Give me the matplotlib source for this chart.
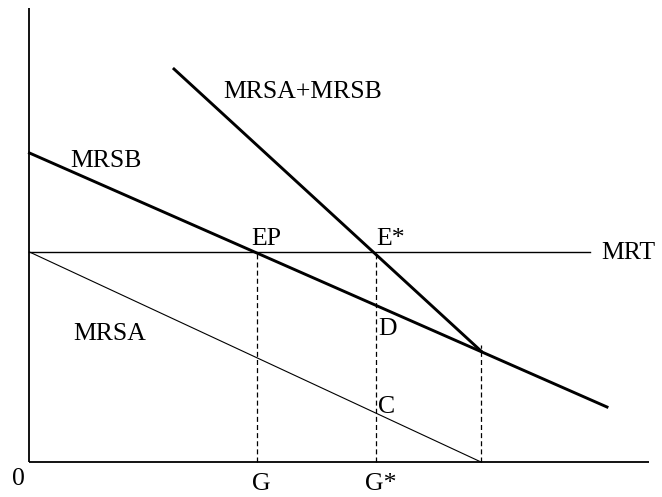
import matplotlib
matplotlib.use("Agg")
import matplotlib.pyplot as plt

# Curve endpoints (quantity G on x, marginal value on y)
mrsb_x = [0, 577.5]
mrsb_y = [309, 55]
mrsa_x = [0, 451.5]
mrsa_y = [210, 0]
sum_x = [144.5, 451.5]
sum_y = [393, 111]
mrt_x = [0, 560.5]
mrt_y = [210, 210]
g_ep = 227.5      # G (private equilibrium EP)
g_star = 346.5    # G* (efficient E*)
g_kink = 451.5    # where MRSA reaches zero
kink_y = 117

plt.rcParams['font.family'] = ['Liberation Serif', 'DejaVu Serif']

fig = plt.figure(figsize=(6.62, 4.97), dpi=100)
ax = fig.add_axes([0, 0, 1, 1])
ax.set_xlim(-29.5, 632.5)
ax.set_ylim(-35, 462)
ax.axis('off')

# axes
ax.plot([0, 0], [0, 454], color='black', lw=1.3, solid_capstyle='butt')
ax.plot([0, 619.5], [0, 0], color='black', lw=1.3, solid_capstyle='butt')

# curves
ax.plot(mrt_x, mrt_y, color='black', lw=1.0)
ax.plot(mrsa_x, mrsa_y, color='black', lw=0.8)
ax.plot(mrsb_x, mrsb_y, color='black', lw=2.1)
ax.plot(sum_x, sum_y, color='black', lw=2.1)

# dashed guides
dash = (0, (4, 2.5))
ax.plot([g_ep, g_ep], [0, mrt_y[0]], color='black', lw=0.9, ls=dash)
ax.plot([g_star, g_star], [0, mrt_y[0]], color='black', lw=0.9, ls=dash)
ax.plot([g_kink, g_kink], [0, kink_y], color='black', lw=0.9, ls=dash)

fs = 18.5
def lab(x, y, s, ha='center'):
    ax.text(x, y, s, fontsize=fs, ha=ha, va='baseline', color='black')

lab(273, 363.5, 'MRSA+MRSB')
lab(76, 295.3, 'MRSB')
lab(80, 122, 'MRSA')
lab(572, 203, 'MRT', ha='left')
lab(236.5, 217, 'EP')
lab(361.5, 217, 'E*')
lab(348.5, 127, 'D', ha='left')
lab(348.5, 49, 'C', ha='left')
lab(-11.2, -23, '0')
lab(231.5, -28, 'G')
lab(351.5, -28, 'G*')

fig.savefig('out.png', dpi=100)
